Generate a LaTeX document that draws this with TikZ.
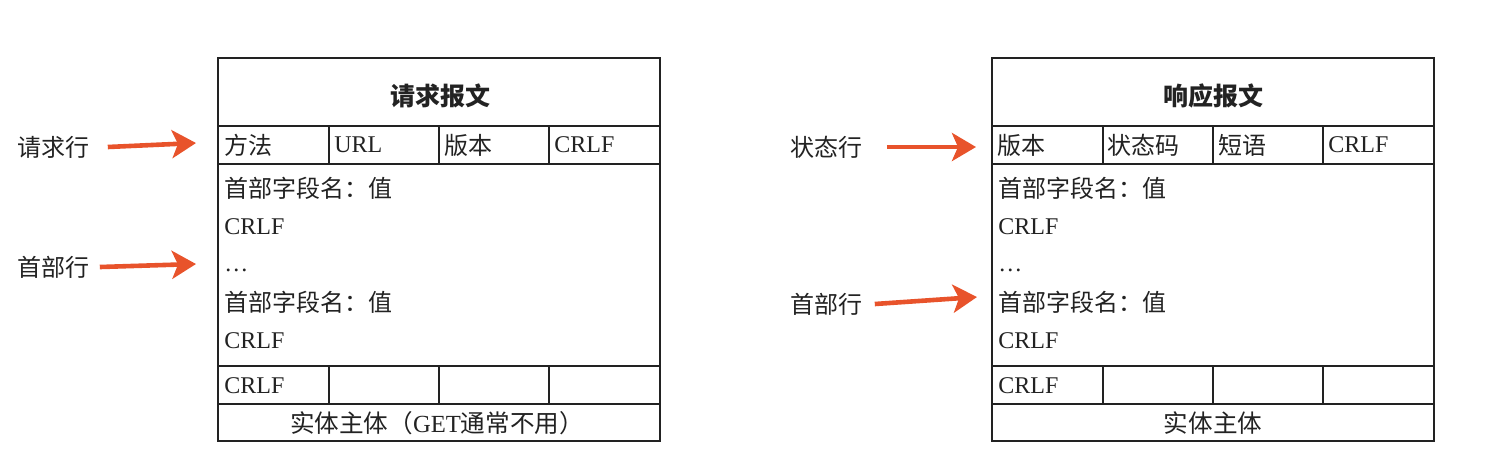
\documentclass[tikz,border=0pt]{standalone}
\usepackage{fontspec}
\setmainfont{Liberation Serif}
\newfontfamily\cjk{Noto Sans CJK SC}
\usetikzlibrary{arrows.meta}
\definecolor{arrred}{HTML}{E8532B}
\definecolor{ink}{HTML}{222222}
\tikzset{
  frame/.style={draw=ink, line width=0.75pt},
  txt/.style={anchor=base west, inner sep=0pt, text=ink, font=\fontsize{12}{14}\selectfont},
  mid/.style={anchor=base, inner sep=0pt, text=ink, font=\fontsize{12.3}{14}\selectfont},
  side/.style={anchor=west, inner sep=0pt, text=ink, font=\fontsize{12}{14}\selectfont\cjk},
  arr/.style={arrred, line width=2.3pt, -{Stealth[length=12pt, width=14pt, inset=3pt]}}
}
\begin{document}
\begin{tikzpicture}[x=0.5pt, y=-0.5pt]
    \useasboundingbox (0,0) rectangle (1493,457);

    % Rahmen beider Boxen
    \foreach \ox in {0,774} {
        \draw[frame] (218+\ox,58) rectangle (660+\ox,441);
        \draw[frame] (218+\ox,126) -- (660+\ox,126);
        \draw[frame] (218+\ox,164) -- (660+\ox,164);
        \draw[frame] (218+\ox,366) -- (660+\ox,366);
        \draw[frame] (218+\ox,404) -- (660+\ox,404);
        \foreach \x in {329,439,549} {
            \draw[frame] (\x+\ox,126) -- (\x+\ox,164);
            \draw[frame] (\x+\ox,366) -- (\x+\ox,404);
        }
    }

    % Anfrage
    \node[mid, anchor=center, font=\fontsize{12.5}{14}\selectfont\cjk\bfseries] (reqtitle) at (440,96) {请求报文};
    \node[txt] (reqmethod) at (224,154) {\cjk 方法};
    \node[txt] (requrl) at (334,152) {URL};
    \node[txt] (reqver) at (444,154) {\cjk 版本};
    \node[txt] (reqcrlf) at (554,152) {CRLF};
    \node[txt] (reqhead1) at (224,197) {\cjk 首部字段名：值};
    \node[txt] (reqcrlf1) at (224,234) {CRLF};
    \node[txt] (reqdots) at (224,271) {\ldots};
    \node[txt] (reqhead2) at (224,311) {\cjk 首部字段名：值};
    \node[txt] (reqcrlf2) at (224,348) {CRLF};
    \node[txt] (reqcrlf3) at (224,393) {CRLF};
    \node[mid] (reqbody) at (437,432) {{\cjk 实体主体（}GET{\cjk 通常不用）}};

    \node[side] (reqline) at (17,147) {请求行};
    \node[side] (reqhdr) at (17,267) {首部行};
    \coordinate (reqlinetip) at (196,143);
    \coordinate (reqhdrtip) at (196,264);
    \draw[arr] ([xshift=9pt]reqline.east) -- (reqlinetip);
    \draw[arr] ([xshift=5pt]reqhdr.east) -- (reqhdrtip);

    % Antwort
    \node[mid, anchor=center, font=\fontsize{12.5}{14}\selectfont\cjk\bfseries] (restitle) at (1213,96) {响应报文};
    \node[txt] (resver) at (997,154) {\cjk 版本};
    \node[txt] (rescode) at (1107,154) {\cjk 状态码};
    \node[txt] (resphrase) at (1218,154) {\cjk 短语};
    \node[txt] (rescrlf) at (1328,152) {CRLF};
    \node[txt] (reshead1) at (998,197) {\cjk 首部字段名：值};
    \node[txt] (rescrlf1) at (998,234) {CRLF};
    \node[txt] (resdots) at (998,271) {\ldots};
    \node[txt] (reshead2) at (998,311) {\cjk 首部字段名：值};
    \node[txt] (rescrlf2) at (998,348) {CRLF};
    \node[txt] (rescrlf3) at (998,393) {CRLF};
    \node[mid] (resbody) at (1213,432) {\cjk 实体主体};

    \node[side] (resline) at (790,147) {状态行};
    \node[side] (reshdr) at (790,304) {首部行};
    \coordinate (reslinetip) at (976,147);
    \coordinate (reshdrtip) at (977,297);
    \draw[arr] ([xshift=12pt]resline.east) -- (reslinetip);
    \draw[arr] ([xshift=6pt]reshdr.east) -- (reshdrtip);
\end{tikzpicture}
\end{document}
